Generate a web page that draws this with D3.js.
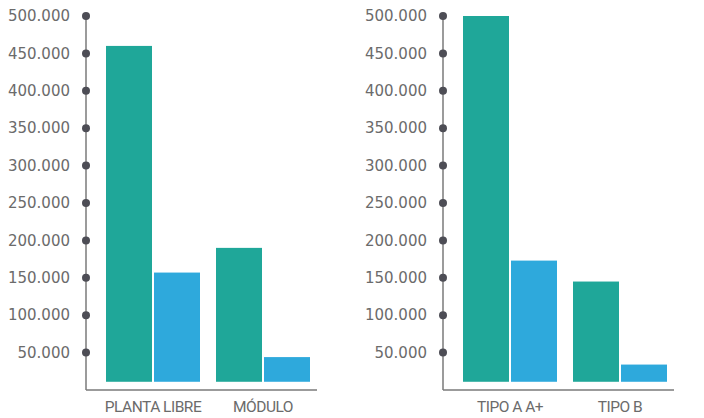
<!DOCTYPE html>
<html>
<head>
<meta charset="utf-8">
<script src="https://cdn.jsdelivr.net/npm/d3@7"></script>
<style>
  body { margin: 0; background: #fff; }
  .tick-label { font-family: "DejaVu Sans", sans-serif; font-size: 15px; fill: #6b6b6b; }
  .cat-label { font-family: "Roboto", sans-serif; font-size: 15.5px; letter-spacing: -0.5px; fill: #6b6b6b; }
</style>
</head>
<body>
<svg id="chart"></svg>
<script>
const WIDTH = 704;
const HEIGHT = 418;

// data
const leftCategories = ['PLANTA LIBRE', 'MÓDULO'];
const leftTeal = [460000, 190000];
const leftBlue = [157000, 44000];

const rightCategories = ['TIPO A A+', 'TIPO B'];
const rightTeal = [500000, 145000];
const rightBlue = [173000, 34000];

const tickValues = [50000, 100000, 150000, 200000, 250000, 300000, 350000, 400000, 450000, 500000];

const TEAL = '#1fa799';
const BLUE = '#2ea9dc';
const barBase = 11000; // bars sit a bit above the axis line

const locale = d3.formatLocale({decimal: ',', thousands: '.', grouping: [3], currency: ['', '']});
const fmt = locale.format(',');

const svg = d3.select('#chart').attr('width', WIDTH).attr('height', HEIGHT);

const y = d3.scaleLinear().domain([0, 500000]).range([390, 16]);

const renderPanel = (axisX, bandRange, categories, teal, blue) => {
    const g = svg.append('g');

    const x = d3.scaleBand()
        .domain(categories)
        .range(bandRange)
        .paddingInner(16 / 110)
        .paddingOuter(8 / 110);

    const sub = d3.scaleBand()
        .domain(['teal', 'blue'])
        .range([0, x.bandwidth()])
        .paddingInner(2 / 48);

    const rows = categories.map((c, i) => ({cat: c, teal: teal[i], blue: blue[i]}));

    // bars
    rows.forEach(d => {
        [['teal', TEAL], ['blue', BLUE]].forEach(([k, col]) => {
            g.append('rect')
                .attr('x', x(d.cat) + sub(k))
                .attr('width', sub.bandwidth())
                .attr('y', y(d[k]))
                .attr('height', y(barBase) - y(d[k]))
                .attr('fill', col);
        });
    });

    // axis lines
    g.append('line')
        .attr('x1', axisX).attr('x2', axisX)
        .attr('y1', y(0)).attr('y2', y(500000))
        .attr('stroke', '#7a7a7a').attr('stroke-width', 1.5);
    g.append('line')
        .attr('x1', axisX).attr('x2', bandRange[1] - 1)
        .attr('y1', y(0)).attr('y2', y(0))
        .attr('stroke', '#7a7a7a').attr('stroke-width', 1.5);

    // tick dots + labels
    g.selectAll('.dot').data(tickValues).enter()
        .append('circle')
        .attr('class', 'dot')
        .attr('cx', axisX)
        .attr('cy', d => y(d))
        .attr('r', 4)
        .attr('fill', '#4d4d55');

    g.selectAll('.tick-label').data(tickValues).enter()
        .append('text')
        .attr('class', 'tick-label')
        .attr('x', axisX - 16)
        .attr('y', d => y(d))
        .attr('dy', '0.35em')
        .attr('text-anchor', 'end')
        .text(d => fmt(d));

    // category labels
    g.selectAll('.cat-label').data(categories).enter()
        .append('text')
        .attr('class', 'cat-label')
        .attr('x', d => x(d) + x.bandwidth() / 2)
        .attr('y', 412)
        .attr('text-anchor', 'middle')
        .text(d => d);
};

renderPanel(86, [98, 318], leftCategories, leftTeal, leftBlue);
renderPanel(443, [455, 675], rightCategories, rightTeal, rightBlue);
</script>
</body>
</html>
